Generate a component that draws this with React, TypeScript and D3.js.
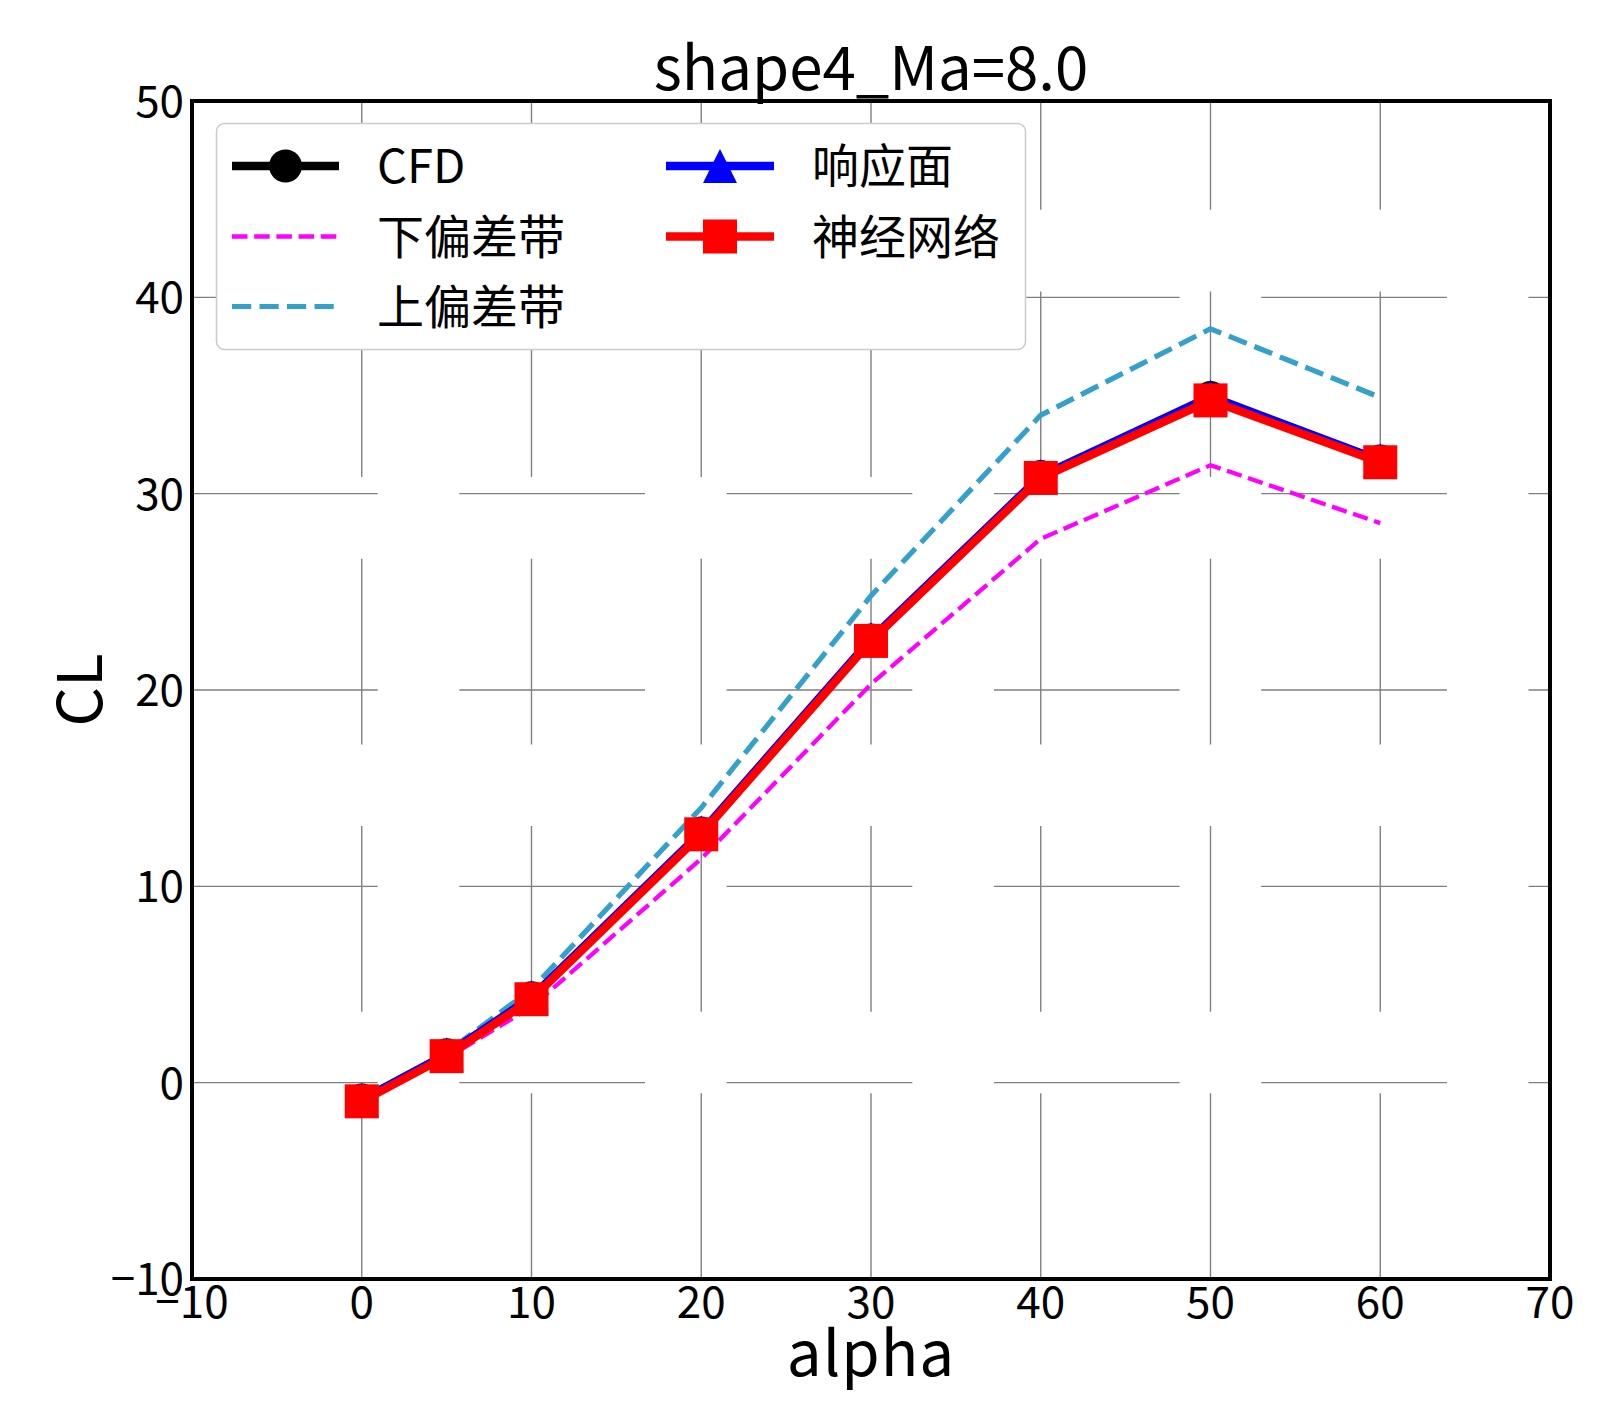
import * as d3 from 'd3';

// chart values
const alpha = [0, 5, 10, 20, 30, 40, 50, 60];
const cfd = [-0.88, 1.42, 4.32, 12.72, 22.55, 30.87, 34.9, 31.66];
const rsm = [-0.86, 1.45, 4.35, 12.75, 22.6, 30.9, 34.95, 31.7];
const nn = [-0.95, 1.35, 4.25, 12.65, 22.5, 30.8, 34.75, 31.6];
const lowerBand = [-0.8, 1.25, 3.85, 11.4, 20.3, 27.7, 31.45, 28.5];
const upperBand = [-1.0, 1.55, 4.75, 14.0, 24.8, 34.0, 38.4, 34.9];

const xTicks = [-10, 0, 10, 20, 30, 40, 50, 60, 70];
const yTicks = [-10, 0, 10, 20, 30, 40, 50];

const W = 1600;
const H = 1423;
const FONT = "'Noto Sans CJK SC', sans-serif";

const x = d3.scaleLinear().domain([-10, 70]).range([192, 1550]);
const y = d3.scaleLinear().domain([-10, 50]).range([1279, 101]);

const line = d3.line<number>()
  .x((_, i) => x(alpha[i]))
  .y(d => y(d));

const fmt = (v: number) => (v < 0 ? '\u2212' + Math.abs(v) : String(v));

// matplotlib-ish triangle marker, centred on its box
const tri = (s: number) => `M0,${-s / 2}L${-s / 2},${s / 2}L${s / 2},${s / 2}Z`;

const MS = 34;

export default function App() {
  const [x0, x1] = x.range();
  const [y1, y0] = y.range();

  const legendRows = [166, 236.5, 306.5];
  const col1 = { lx0: 232, lx1: 339, tx: 377 };
  const col2 = { lx0: 666, lx1: 774, tx: 812 };

  return (
    <svg width={W} height={H} style={{ position: 'absolute', left: 0, top: 0, background: '#fff' }}>
      <rect width={W} height={H} fill="#fff" />

      {/* grid */}
      <g stroke="#808080" strokeWidth={1.4} strokeDasharray="185.7 81.6" fill="none">
        {yTicks.map(t => (
          <line key={'gy' + t} x1={x0} x2={x1} y1={y(t)} y2={y(t)} />
        ))}
        {xTicks.map(t => (
          <line key={'gx' + t} x1={x(t)} x2={x(t)} y1={y1} y2={y0} />
        ))}
      </g>

      {/* series */}
      <path d={line(cfd) || ''} fill="none" stroke="#000" strokeWidth={8.3} strokeLinejoin="round" />
      {cfd.map((v, i) => (
        <circle key={'c' + i} cx={x(alpha[i])} cy={y(v)} r={16.5} fill="#000" />
      ))}
      <path d={line(lowerBand) || ''} fill="none" stroke="#ff00ff" strokeWidth={4.3} strokeDasharray="15.5 6.7" />
      <path d={line(upperBand) || ''} fill="none" stroke="#33a1c9" strokeWidth={5.2} strokeDasharray="19.2 8.3" />
      <path d={line(rsm) || ''} fill="none" stroke="#0000ff" strokeWidth={8.3} strokeLinejoin="round" />
      {rsm.map((v, i) => (
        <path key={'t' + i} d={tri(MS)} transform={`translate(${x(alpha[i])},${y(v)})`} fill="#0000ff" />
      ))}
      <path d={line(nn) || ''} fill="none" stroke="#ff0000" strokeWidth={8.3} strokeLinejoin="round" />
      {nn.map((v, i) => (
        <rect key={'s' + i} x={x(alpha[i]) - MS / 2} y={y(v) - MS / 2} width={MS} height={MS} fill="#ff0000" />
      ))}

      {/* frame */}
      <rect x={x0} y={y0} width={x1 - x0} height={y1 - y0} fill="none" stroke="#000" strokeWidth={4} />

      {/* tick labels */}
      <g fontFamily={FONT} fontSize={44} fill="#000">
        {yTicks.map(t => (
          <text key={'ly' + t} x={184} y={y(t) + 16} textAnchor="end">{fmt(t)}</text>
        ))}
        {xTicks.map(t => (
          <text key={'lx' + t} x={x(t)} y={1318} textAnchor="middle">{fmt(t)}</text>
        ))}
      </g>

      {/* titles */}
      <text x={(x0 + x1) / 2} y={90} textAnchor="middle" fontFamily={FONT} fontSize={60}>shape4_Ma=8.0</text>
      <text x={(x0 + x1) / 2} y={1376} textAnchor="middle" fontFamily={FONT} fontSize={62} letterSpacing={1}>alpha</text>
      <text transform={`translate(102,${(y0 + y1) / 2}) rotate(-90)`} textAnchor="middle" fontFamily={FONT} fontSize={62}>CL</text>

      {/* legend */}
      <rect x={216.5} y={123.5} width={809} height={226} rx={8} fill="#fff" stroke="#cccccc" strokeWidth={1.5} />
      <g fontFamily={FONT} fontSize={47} fill="#000">
        <line x1={col1.lx0} x2={col1.lx1} y1={legendRows[0]} y2={legendRows[0]} stroke="#000" strokeWidth={8.3} />
        <circle cx={(col1.lx0 + col1.lx1) / 2} cy={legendRows[0]} r={16.5} fill="#000" />
        <text x={col1.tx} y={legendRows[0] + 17}>CFD</text>

        <line x1={col1.lx0} x2={col1.lx1} y1={legendRows[1]} y2={legendRows[1]} stroke="#ff00ff" strokeWidth={4.3} strokeDasharray="15.5 6.7" />
        <text x={col1.tx} y={legendRows[1] + 17}>下偏差带</text>

        <line x1={col1.lx0} x2={col1.lx1} y1={legendRows[2]} y2={legendRows[2]} stroke="#33a1c9" strokeWidth={5.2} strokeDasharray="19.2 8.3" />
        <text x={col1.tx} y={legendRows[2] + 17}>上偏差带</text>

        <line x1={col2.lx0} x2={col2.lx1} y1={legendRows[0]} y2={legendRows[0]} stroke="#0000ff" strokeWidth={8.3} />
        <path d={tri(MS)} transform={`translate(${(col2.lx0 + col2.lx1) / 2},${legendRows[0]})`} fill="#0000ff" />
        <text x={col2.tx} y={legendRows[0] + 17}>响应面</text>

        <line x1={col2.lx0} x2={col2.lx1} y1={legendRows[1]} y2={legendRows[1]} stroke="#ff0000" strokeWidth={8.3} />
        <rect x={(col2.lx0 + col2.lx1) / 2 - MS / 2} y={legendRows[1] - MS / 2} width={MS} height={MS} fill="#ff0000" />
        <text x={col2.tx} y={legendRows[1] + 17}>神经网络</text>
      </g>
    </svg>
  );
}
